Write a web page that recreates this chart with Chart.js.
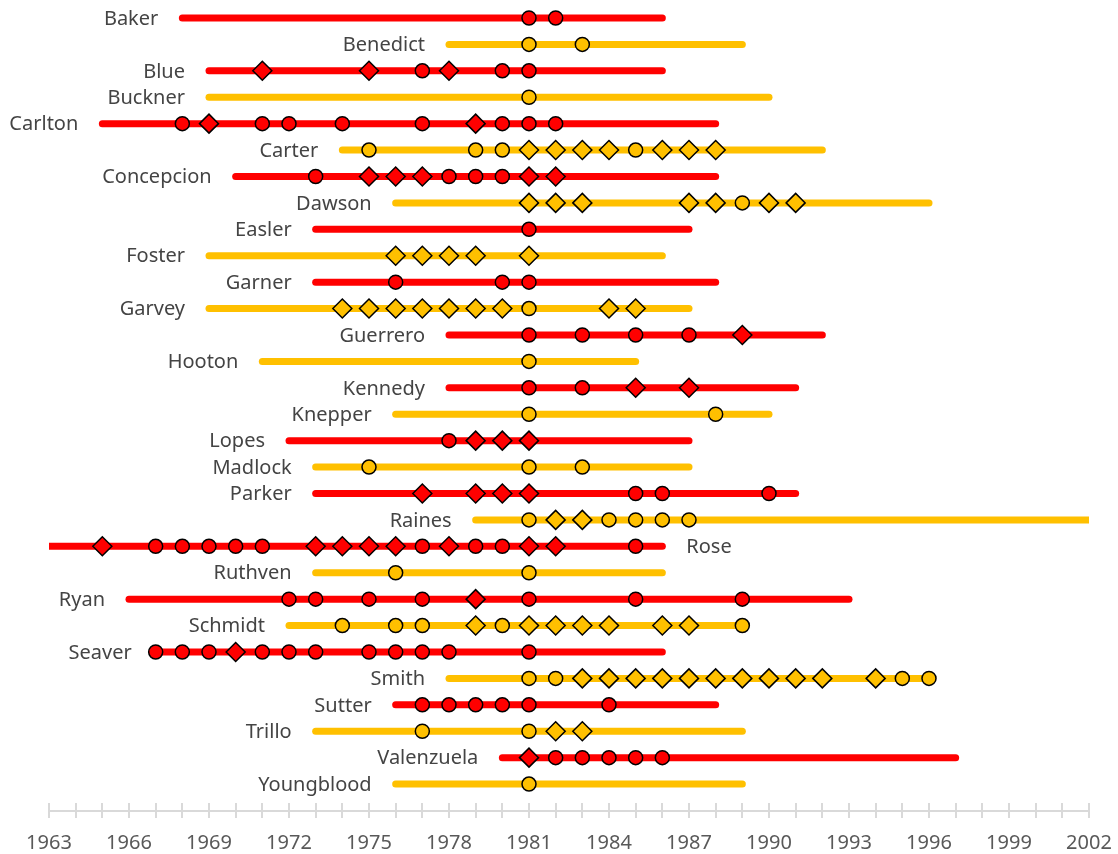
<!DOCTYPE html>
<html>
<head>
<meta charset="utf-8">
<title>Careers</title>
<script src="https://cdn.jsdelivr.net/npm/chart.js@4/dist/chart.umd.min.js"></script>
<style>
  html, body { margin: 0; padding: 0; background: #fff; }
  #chart { display: block; }
</style>
</head>
<body>
<canvas id="chart" width="1118" height="854"></canvas>
<script>
const players = ['Baker', 'Benedict', 'Blue', 'Buckner', 'Carlton', 'Carter', 'Concepcion', 'Dawson',
    'Easler', 'Foster', 'Garner', 'Garvey', 'Guerrero', 'Hooton', 'Kennedy', 'Knepper', 'Lopes',
    'Madlock', 'Parker', 'Raines', 'Rose', 'Ruthven', 'Ryan', 'Schmidt', 'Seaver', 'Smith',
    'Sutter', 'Trillo', 'Valenzuela', 'Youngblood'];

const firstYear = [1968, 1978, 1969, 1969, 1965, 1974, 1970, 1976, 1973, 1969, 1973, 1969, 1978, 1971, 1978,
    1976, 1972, 1973, 1973, 1979, 1963, 1973, 1966, 1972, 1967, 1978, 1976, 1973, 1980, 1976];
const lastYear = [1986, 1989, 1986, 1990, 1988, 1992, 1988, 1996, 1987, 1986, 1988, 1987, 1992, 1985, 1991,
    1990, 1987, 1987, 1991, 2002, 1986, 1986, 1993, 1989, 1986, 1996, 1988, 1989, 1997, 1989];

// years marked with a circle / a diamond, one list per player
const circleYears = [
    [1981, 1982],
    [1981, 1983],
    [1977, 1980, 1981],
    [1981],
    [1968, 1971, 1972, 1974, 1977, 1980, 1981, 1982],
    [1975, 1979, 1980, 1985],
    [1973, 1978, 1979, 1980],
    [1989],
    [1981],
    [],
    [1976, 1980, 1981],
    [1981],
    [1981, 1983, 1985, 1987],
    [1981],
    [1981, 1983],
    [1981, 1988],
    [1978],
    [1975, 1981, 1983],
    [1985, 1986, 1990],
    [1981, 1984, 1985, 1986, 1987],
    [1967, 1968, 1969, 1970, 1971, 1977, 1979, 1980, 1985],
    [1976, 1981],
    [1972, 1973, 1975, 1977, 1981, 1985, 1989],
    [1974, 1976, 1977, 1980, 1989],
    [1967, 1968, 1969, 1971, 1972, 1973, 1975, 1976, 1977, 1978, 1981],
    [1981, 1982, 1995, 1996],
    [1977, 1978, 1979, 1980, 1981, 1984],
    [1977, 1981],
    [1982, 1983, 1984, 1985, 1986],
    [1981]
];
const diamondYears = [
    [],
    [],
    [1971, 1975, 1978],
    [],
    [1969, 1979],
    [1981, 1982, 1983, 1984, 1986, 1987, 1988],
    [1975, 1976, 1977, 1981, 1982],
    [1981, 1982, 1983, 1987, 1988, 1990, 1991],
    [],
    [1976, 1977, 1978, 1979, 1981],
    [],
    [1974, 1975, 1976, 1977, 1978, 1979, 1980, 1984, 1985],
    [1989],
    [],
    [1985, 1987],
    [],
    [1979, 1980, 1981],
    [],
    [1977, 1979, 1980, 1981],
    [1982, 1983],
    [1965, 1973, 1974, 1975, 1976, 1978, 1981, 1982],
    [],
    [1979],
    [1979, 1981, 1982, 1983, 1984, 1986, 1987],
    [1970],
    [1983, 1984, 1985, 1986, 1987, 1988, 1989, 1990, 1991, 1992, 1994],
    [],
    [1982, 1983],
    [1981],
    []
];

const yearLabels = [1963, 1966, 1969, 1972, 1975, 1978, 1981, 1984, 1987, 1990, 1993, 1996, 1999, 2002];
const labelOnRight = ['Rose'];

const RED = '#ff0000';
const GOLD = '#ffc000';

document.addEventListener('DOMContentLoaded', function () {
    const rowColor = i => (i % 2 === 0 ? RED : GOLD);

    const datasets = [];

    // markers first so they sit on top of the bars
    function markerSet(lists, color, style, radius) {
        const pts = [];
        lists.forEach((years, i) => {
            if (rowColor(i) !== color) return;
            years.forEach(y => pts.push({ x: y, y: i }));
        });
        return {
            data: pts,
            showLine: false,
            pointStyle: style,
            pointRadius: radius,
            pointHoverRadius: radius,
            pointBackgroundColor: color,
            pointBorderColor: '#000',
            pointBorderWidth: 1.5,
            order: 0
        };
    }
    datasets.push(markerSet(circleYears, RED, 'circle', 7));
    datasets.push(markerSet(circleYears, GOLD, 'circle', 7));
    datasets.push(markerSet(diamondYears, RED, 'rectRot', 9.5));
    datasets.push(markerSet(diamondYears, GOLD, 'rectRot', 9.5));

    players.forEach((name, i) => {
        datasets.push({
            label: name,
            data: [{ x: firstYear[i], y: i }, { x: lastYear[i], y: i }],
            borderColor: rowColor(i),
            borderWidth: 7,
            borderCapStyle: 'round',
            pointRadius: 0,
            pointHoverRadius: 0,
            order: 1
        });
    });

    // player names next to each bar
    const nameLabels = {
        id: 'nameLabels',
        afterDatasetsDraw(chart) {
            const ctx = chart.ctx;
            const xs = chart.scales.x, ys = chart.scales.y;
            ctx.save();
            ctx.font = '20px "Noto Sans"';
            ctx.fillStyle = '#444444';
            ctx.textBaseline = 'middle';
            players.forEach((name, i) => {
                const y = ys.getPixelForValue(i) + 1;
                if (labelOnRight.includes(name)) {
                    ctx.textAlign = 'left';
                    ctx.fillText(name, xs.getPixelForValue(lastYear[i]) + 24, y);
                } else {
                    ctx.textAlign = 'right';
                    ctx.fillText(name, xs.getPixelForValue(firstYear[i]) - 24, y);
                }
            });
            ctx.restore();
        }
    };

    // small crossing tick marks on the year axis
    const axisTicks = {
        id: 'axisTicks',
        beforeDatasetsDraw(chart) {
            const ctx = chart.ctx;
            const xs = chart.scales.x;
            const y0 = chart.chartArea.bottom;
            ctx.save();
            ctx.strokeStyle = '#d9d9d9';
            ctx.lineWidth = 2;
            xs.ticks.forEach(t => {
                const px = Math.round(xs.getPixelForValue(t.value));
                ctx.beginPath();
                ctx.moveTo(px, y0 - 8);
                ctx.lineTo(px, y0 + 7);
                ctx.stroke();
            });
            ctx.restore();
        }
    };

    new Chart(document.getElementById('chart').getContext('2d'), {
        type: 'line',
        data: { datasets: datasets },
        options: {
            responsive: false,
            animation: false,
            layout: { autoPadding: false, padding: { left: 49, right: 29, top: 0, bottom: -13 } },
            scales: {
                x: {
                    type: 'linear',
                    min: 1963,
                    max: 2002,
                    afterFit: function (scale) {
                        // end labels fit inside the fixed padding already
                        scale.paddingLeft = 0;
                        scale.paddingRight = 0;
                    },
                    grid: { display: false, drawTicks: true, tickLength: 8 },
                    border: { display: true, color: '#d9d9d9', width: 2 },
                    ticks: {
                        stepSize: 1,
                        autoSkip: false,
                        maxRotation: 0,
                        padding: 12,
                        color: '#595959',
                        font: { family: 'Noto Sans', size: 20 },
                        callback: v => (yearLabels.includes(v) ? String(v) : '')
                    }
                },
                y: {
                    type: 'linear',
                    reverse: true,
                    min: -0.68,
                    max: 30.02,
                    display: false
                }
            },
            plugins: {
                legend: { display: false },
                tooltip: { enabled: false }
            }
        },
        plugins: [axisTicks, nameLabels]
    });
});
</script>
</body>
</html>
